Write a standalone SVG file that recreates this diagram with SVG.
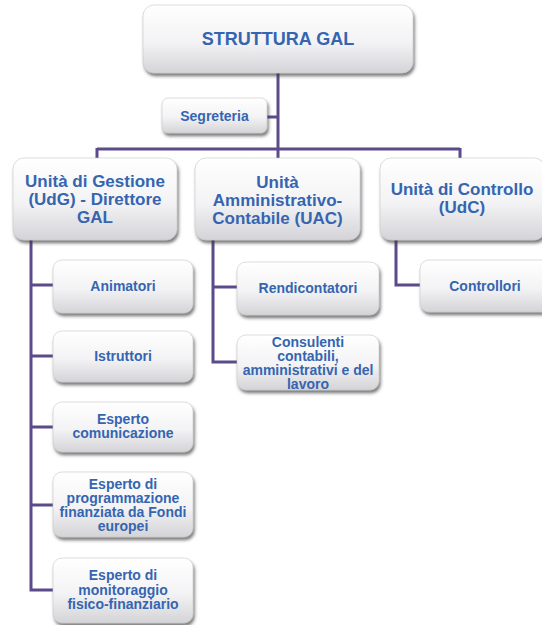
<svg xmlns="http://www.w3.org/2000/svg" width="542" height="625" viewBox="0 0 542 625">
<style>
.box{fill:url(#g);stroke:#c8c8c8;stroke-width:0.6;filter:url(#sh)}
.t{font-family:"Liberation Sans",Arial,sans-serif;font-weight:bold;fill:#3565b0;text-anchor:middle}
.t1{font-size:18px}
.t2{font-size:17px}
.t3{font-size:14px}
.c{stroke:#5d4a8b;stroke-width:3;fill:none}
</style>
<defs>
<linearGradient id="g" x1="0" y1="0" x2="0" y2="1">
<stop offset="0" stop-color="#ffffff"/>
<stop offset="0.55" stop-color="#f3f3f5"/>
<stop offset="1" stop-color="#d4d4d8"/>
</linearGradient>
<filter id="sh" x="-10%" y="-10%" width="125%" height="140%">
<feDropShadow dx="1.5" dy="3" stdDeviation="1.8" flood-color="#3a3a3a" flood-opacity="0.65"/>
</filter>
</defs>
<rect width="542" height="625" fill="#ffffff"/>
<g id="connectors">
<path class="c" d="M278 73V158"/>
<path class="c" d="M267 117H278"/>
<path class="c" d="M97 149H460"/>
<path class="c" d="M97 148V158M460 148V158"/>
<path class="c" d="M31 240V590H53"/>
<path class="c" d="M31 285H53M31 356H53M31 427H53M31 505H53"/>
<path class="c" d="M213 240V362H237"/>
<path class="c" d="M213 287H237"/>
<path class="c" d="M396 240V285H420"/>
</g>
<g id="n-struttura">
<rect class="box" x="143" y="5" width="270" height="68" rx="11"/>
<text class="t t1" x="278" y="45">STRUTTURA GAL</text>
</g>
<g id="n-segreteria">
<rect class="box" x="162" y="98" width="105" height="35" rx="6"/>
<text class="t t3" x="214.5" y="121">Segreteria</text>
</g>
<g id="n-udg">
<rect class="box" x="13" y="158" width="164" height="82" rx="11"/>
<text class="t t2" x="95" y="187">Unità di Gestione</text>
<text class="t t2" x="95" y="205">(UdG) - Direttore</text>
<text class="t t2" x="95" y="223">GAL</text>
</g>
<g id="n-uac">
<rect class="box" x="195" y="158" width="165" height="82" rx="11"/>
<text class="t t2" x="277.5" y="188">Unità</text>
<text class="t t2" x="277.5" y="206">Amministrativo-</text>
<text class="t t2" x="277.5" y="224">Contabile (UAC)</text>
</g>
<g id="n-udc">
<rect class="box" x="380" y="158" width="165" height="82" rx="11"/>
<text class="t t2" x="462" y="195">Unità di Controllo</text>
<text class="t t2" x="462" y="213">(UdC)</text>
</g>
<g id="n-animatori">
<rect class="box" x="53" y="260" width="140" height="53" rx="9"/>
<text class="t t3" x="123" y="291">Animatori</text>
</g>
<g id="n-istruttori">
<rect class="box" x="53" y="331" width="140" height="51" rx="9"/>
<text class="t t3" x="123" y="361">Istruttori</text>
</g>
<g id="n-comunicazione">
<rect class="box" x="53" y="402" width="140" height="50" rx="9"/>
<text class="t t3" x="123" y="424">Esperto</text>
<text class="t t3" x="123" y="438">comunicazione</text>
</g>
<g id="n-programmazione">
<rect class="box" x="53" y="472" width="140" height="65" rx="9"/>
<text class="t t3" x="123" y="488.5">Esperto di</text>
<text class="t t3" x="123" y="502.5">programmazione</text>
<text class="t t3" x="123" y="516.5">finanziata da Fondi</text>
<text class="t t3" x="123" y="530.5">europei</text>
</g>
<g id="n-monitoraggio">
<rect class="box" x="53" y="558" width="140" height="65" rx="9"/>
<text class="t t3" x="123" y="580">Esperto di</text>
<text class="t t3" x="123" y="594.5">monitoraggio</text>
<text class="t t3" x="123" y="609">fisico-finanziario</text>
</g>
<g id="n-rendicontatori">
<rect class="box" x="237" y="262" width="142" height="53" rx="9"/>
<text class="t t3" x="308" y="293">Rendicontatori</text>
</g>
<g id="n-consulenti">
<rect class="box" x="237" y="335" width="142" height="55" rx="9"/>
<text class="t t3" x="308" y="347">Consulenti</text>
<text class="t t3" x="308" y="361">contabili,</text>
<text class="t t3" x="308" y="375">amministrativi e del</text>
<text class="t t3" x="308" y="389">lavoro</text>
</g>
<g id="n-controllori">
<rect class="box" x="420" y="260" width="140" height="52" rx="9"/>
<text class="t t3" x="485" y="291">Controllori</text>
</g>
</svg>
